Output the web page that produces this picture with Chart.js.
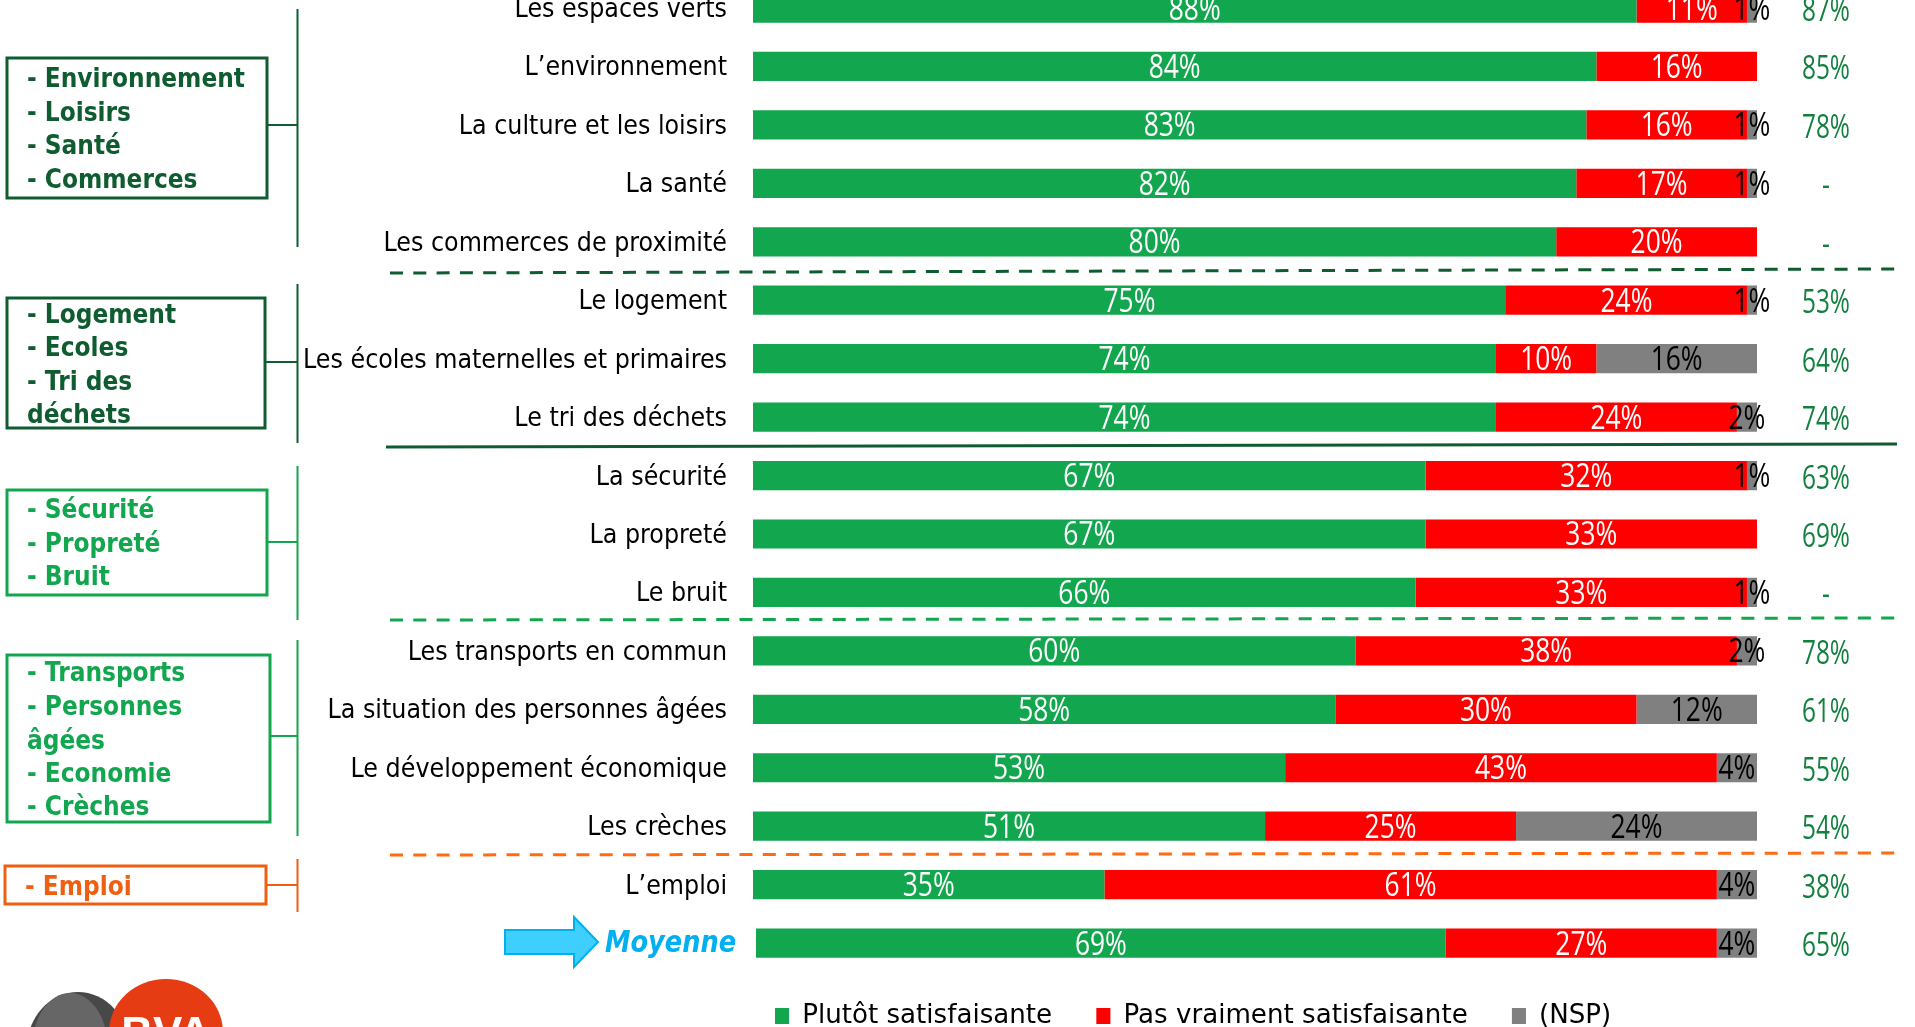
<!DOCTYPE html>
<html lang="fr">
<head>
<meta charset="utf-8">
<title>Satisfaction</title>
<style>
html,body{margin:0;padding:0;background:#fff;overflow:hidden;width:1915px;height:1027px}
#wrap{position:absolute;left:0;top:-40px;width:1915px;height:1067px}
</style>
<script src="https://cdn.jsdelivr.net/npm/chart.js@4"></script>
</head>
<body>
<div id="wrap"><canvas id="c" width="1915" height="1067"></canvas></div>
<script>
const categories = ["Les espaces verts","L’environnement","La culture et les loisirs","La santé","Les commerces de proximité","Le logement","Les écoles maternelles et primaires","Le tri des déchets","La sécurité","La propreté","Le bruit","Les transports en commun","La situation des personnes âgées","Le développement économique","Les crèches","L’emploi","Moyenne"];
const satisfied = [88,84,83,82,80,75,74,74,67,67,66,60,58,53,51,35,69];
const unsatisfied = [11,16,16,17,20,24,10,24,32,33,33,38,30,43,25,61,27];
const noOpinion = [1,0,1,1,0,1,16,2,1,0,1,2,12,4,24,4,4];
const previousWave = ["87%","85%","78%","-","-","53%","64%","74%","63%","69%","-","78%","61%","55%","54%","38%","65%"];
const seriesNames = ["Plutôt satisfaisante","Pas vraiment satisfaisante","(NSP)"];
const barStart = [0,0,0,0,0,0,0,0,0,0,0,0,0,0,0,0,0.3];

const GREEN="#12a64f", RED="#ff0000", GRAY="#808080";
const DARK="#0f5c30", MID="#12a64f", ORANGE="#ee5f12";
const LABEL_FONT='"DejaVu Sans",sans-serif';
const VALUE_FONT='"Open Sans",sans-serif';
const OFFSET=40;
const TICK_RIGHT=727, LEGEND_LEFT=775;

const groups=[
 {color:DARK,box:[7,58,267,198],conn:125,vert:[9,247],x:27,lines:[["- Environnement",87],["- Loisirs",121],["- Santé",154],["- Commerces",188]]},
 {color:DARK,box:[7,298,265,428],conn:362,vert:[284,443],x:27,lines:[["- Logement",323],["- Ecoles",356],["- Tri des",390],["déchets",423]]},
 {color:MID,box:[7,490,267,595],conn:542,vert:[466,620],x:27,lines:[["- Sécurité",518],["- Propreté",552],["- Bruit",585]]},
 {color:MID,box:[7,655,270,822],conn:736,vert:[640,836],x:27,lines:[["- Transports",681],["- Personnes",715],["âgées",749],["- Economie",782],["- Crèches",815]]},
 {color:ORANGE,box:[5,866,266,904],conn:885,vert:[859,912],x:25,lines:[["- Emploi",895]]}
];
const separators=[
 {color:DARK,dash:[13,10.3],from:[390,273],to:[1897,269],w:3},
 {color:DARK,dash:[],from:[386,447],to:[1897,444],w:3},
 {color:MID,dash:[13,10.3],from:[390,620],to:[1897,618],w:3},
 {color:"#ff6a13",dash:[13,10.3],from:[390,855],to:[1897,853],w:3}
];

function fitK(ctx,font,text,target){ctx.save();ctx.font=font;const w=ctx.measureText(text).width;ctx.restore();return target/w;}
function stretched(ctx,text,x,y,k){ctx.save();ctx.translate(x,y);ctx.scale(k,1);ctx.fillText(text,0,0);ctx.restore();}

const overlay={
 id:'overlay',
 afterLayout(chart){
  if(chart.$wrapped)return;chart.$wrapped=true;
  const ctx=chart.ctx;
  const tk=fitK(ctx,'27px '+LABEL_FONT,categories[6],424);
  const s=chart.scales.y, dl=s.drawLabels.bind(s);
  s.drawLabels=function(a){ctx.save();ctx.translate(TICK_RIGHT,2);ctx.scale(tk,1);ctx.translate(-TICK_RIGHT,0);dl(a);ctx.restore();};
  const lk=fitK(ctx,'26px '+LABEL_FONT,seriesNames[0],250);
  const lg=chart.legend, ld=lg.draw.bind(lg);
  lg.draw=function(){
    const p=lg.options.labels.padding;
    lg.left=LEGEND_LEFT-p;lg.right=4000;lg.top=1056-p-13;lg.bottom=1067;
    ctx.save();ctx.translate(LEGEND_LEFT,0);ctx.scale(lk,1);ctx.translate(-LEGEND_LEFT,0);ld();ctx.restore();
  };
 },
 afterDatasetsDraw(chart){
  const ctx=chart.ctx;
  ctx.save();
  ctx.textAlign='center';ctx.textBaseline='alphabetic';
  const vf='32px '+VALUE_FONT;
  const vk=fitK(ctx,vf,'16%',52);
  const pk=fitK(ctx,vf,'78%',48);
  ctx.font=vf;
  chart.data.datasets.forEach((ds,di)=>{
    const meta=chart.getDatasetMeta(di);
    const vals=[satisfied,unsatisfied,noOpinion][di];
    meta.data.forEach((el,i)=>{
      if(!vals[i])return;
      ctx.fillStyle=di===2?'#000':'#fff';
      stretched(ctx,vals[i]+'%',(el.x+el.base)/2,el.y+11.5,vk);
    });
  });
  const y=chart.scales.y;
  ctx.fillStyle='#13803f';
  previousWave.forEach((t,i)=>stretched(ctx,t,1826,y.getPixelForValue(i)+13,pk));
  ctx.restore();

  ctx.save();
  ctx.translate(0,OFFSET);
  ctx.textBaseline='alphabetic';
  const bf='bold 27px '+LABEL_FONT;
  const bk=fitK(ctx,bf,'- Environnement',218);
  groups.forEach(g=>{
    ctx.strokeStyle=g.color;ctx.lineWidth=3;
    const [a,b,c,d]=g.box;
    ctx.strokeRect(a,b,c-a,d-b);
    ctx.lineWidth=2;
    ctx.beginPath();ctx.moveTo(c,g.conn);ctx.lineTo(297.5,g.conn);
    ctx.moveTo(297.5,g.vert[0]);ctx.lineTo(297.5,g.vert[1]);ctx.stroke();
    ctx.fillStyle=g.color;ctx.font=bf;ctx.textAlign='left';
    g.lines.forEach(([t,by])=>stretched(ctx,t,g.x,by,bk));
  });
  separators.forEach(s=>{
    ctx.strokeStyle=s.color;ctx.lineWidth=s.w;ctx.setLineDash(s.dash);
    ctx.beginPath();ctx.moveTo(...s.from);ctx.lineTo(...s.to);ctx.stroke();
  });
  ctx.setLineDash([]);
  ctx.beginPath();
  [[505,930],[574,930],[574,917],[598,942],[574,967],[574,954],[505,954]].forEach((p,i)=>i?ctx.lineTo(...p):ctx.moveTo(...p));
  ctx.closePath();ctx.fillStyle='#3fcfff';ctx.fill();ctx.strokeStyle='#00b0f0';ctx.lineWidth=2;ctx.stroke();
  const mf='italic bold 30px '+LABEL_FONT;
  const mk=fitK(ctx,mf,categories[16],131);
  ctx.fillStyle='#00b0f0';ctx.font=mf;ctx.textAlign='left';
  stretched(ctx,categories[16],605,952,mk);
  // logo
  ctx.beginPath();ctx.ellipse(78,1048,51,56,0,0,Math.PI*2);ctx.fillStyle='#484848';ctx.fill();
  ctx.beginPath();ctx.ellipse(70,1048,38,55,0,0,Math.PI*2);ctx.fillStyle='#666666';ctx.fill();
  ctx.beginPath();ctx.ellipse(166,1032,57,53,0,0,Math.PI*2);ctx.fillStyle='#e63c14';ctx.fill();
  ctx.fillStyle='#fff';ctx.font='bold 44px "Liberation Sans",sans-serif';ctx.textAlign='center';
  ctx.fillText('BVA',166,1048);
  ctx.restore();
 }
};

new Chart(document.getElementById('c'),{
 type:'bar',
 data:{labels:categories,datasets:[
  {label:seriesNames[0],backgroundColor:GREEN,grouped:false,data:satisfied.map((v,i)=>[barStart[i],v])},
  {label:seriesNames[1],backgroundColor:RED,grouped:false,data:unsatisfied.map((v,i)=>[satisfied[i],satisfied[i]+v])},
  {label:seriesNames[2],backgroundColor:GRAY,grouped:false,data:noOpinion.map((v,i)=>[satisfied[i]+unsatisfied[i],satisfied[i]+unsatisfied[i]+v])}
 ]},
 options:{
  indexAxis:'y',responsive:false,animation:false,
  barPercentage:0.5,categoryPercentage:1,
  layout:{padding:{top:18.8,right:158,left:0,bottom:0}},
  scales:{
   x:{display:false,min:0,max:100},
   y:{
    afterFit(s){s.width=753;s.paddingTop=0;s.paddingBottom=0;},
    grid:{display:false},border:{display:false},
    ticks:{autoSkip:false,padding:18,color:'#000',font:{family:LABEL_FONT,size:27},
      callback(v,i){return i===16?'':this.getLabelForValue(v);}}
   }
  },
  plugins:{
   tooltip:{enabled:false},
   legend:{position:'bottom',align:'start',maxHeight:54.7,
     labels:{boxWidth:14,boxHeight:16,padding:44,color:'#000',font:{family:LABEL_FONT,size:26}}}
  }
 },
 plugins:[overlay]
});
</script>
</body>
</html>
